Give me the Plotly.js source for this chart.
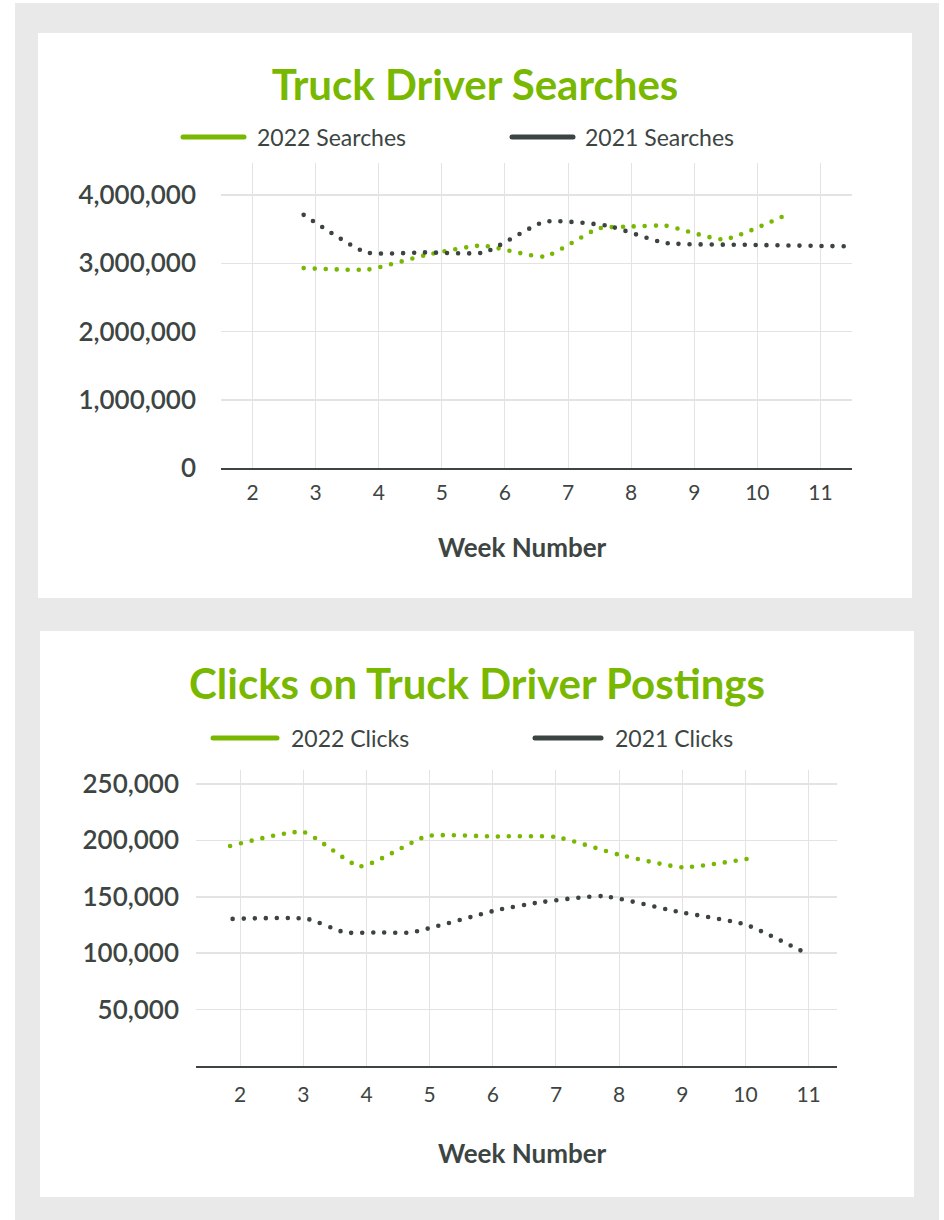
<!DOCTYPE html>
<html><head><meta charset="utf-8">
<script src="https://cdn.plot.ly/plotly-3.0.1.min.js"></script>
<style>
html,body{margin:0;padding:0;background:#fff;width:944px;height:1220px;overflow:hidden;}
#bg{position:absolute;left:15px;top:3px;width:924px;height:1217px;background:#e8e9e8;}
.card{position:absolute;width:874px;background:#fff;}
#c1{left:38px;top:33px;height:565px;}
#c2{left:40px;top:631px;height:566px;}
.js-line{stroke-linecap:round;}
.shapelayer path{stroke-linecap:round;}
</style></head><body>
<div id="bg"></div>
<div id="c1" class="card"></div>
<div id="c2" class="card"></div>
<script>
// ---------- DATA ----------
const weekTicks = [2, 3, 4, 5, 6, 7, 8, 9, 10, 11];
const weekTickLabels = ['2', '3', '4', '5', '6', '7', '8', '9', '10', '11'];

const searches2022Week = [2.81, 3.84, 4.74, 5.63, 6.63, 7.48, 8.02, 8.55, 9.47, 10.48];
const searches2022 = [2930000, 2910000, 3120000, 3260000, 3100000, 3510000, 3540000, 3550000, 3350000, 3720000];
const searches2021Week = [2.81, 3.80, 4.73, 5.67, 6.63, 7.63, 8.53, 9.9, 11.37];
const searches2021 = [3710000, 3160000, 3160000, 3160000, 3610000, 3550000, 3300000, 3270000, 3250000];
const searchTicks = [0, 1000000, 2000000, 3000000, 4000000];

const clicks2022Week = [1.84, 3.0, 3.90, 4.96, 6.0, 7.0, 8.0, 9.0, 10.04];
const clicks2022 = [195000, 207400, 177000, 203800, 203500, 203000, 187300, 176200, 183700];
const clicks2021Week = [1.88, 3.06, 3.66, 4.18, 4.70, 6.05, 6.71, 7.74, 8.90, 10.01, 10.96];
const clicks2021 = [130400, 130400, 118400, 118400, 118400, 138000, 144800, 150600, 137100, 125200, 100000];
const clickTicks = [50000, 100000, 150000, 200000, 250000];

// ---------- STYLE ----------
const GREEN = '#78b800';
const DARK = '#3b4442';
const TEXT = '#3d4543';
const FONT = 'Lato, "Noto Sans", sans-serif';

function buildChart(divId, cfg) {
  const W = 874, H = cfg.H;
  const m = cfg.margin;
  const pw = W - m.l - m.r, ph = H - m.t - m.b;
  const xp = px => (px - m.l) / pw;
  const yp = py => (H - m.b - py) / ph;

  const traces = cfg.series.map(s => ({
    type: 'scatter', mode: 'lines', x: s.x, y: s.y, name: s.name,
    line: {color: s.color, width: 4.6, shape: 'spline', smoothing: 0.5, dash: '0px,11px'},
    hoverinfo: 'skip', showlegend: false
  }));

  const shapes = [], annotations = [];
  cfg.legend.forEach(l => {
    shapes.push({type: 'line', xref: 'paper', yref: 'paper',
      x0: xp(l.x0), x1: xp(l.x1), y0: yp(l.y), y1: yp(l.y),
      line: {color: l.color, width: 5}});
    annotations.push({xref: 'paper', yref: 'paper', x: xp(l.tx), y: yp(l.y),
      xanchor: 'left', yanchor: 'middle', showarrow: false, text: l.text,
      font: {family: FONT, size: 23, color: TEXT}});
  });
  annotations.push({xref: 'paper', yref: 'paper', x: xp(cfg.xTitle.x), y: yp(cfg.xTitle.y),
    xanchor: 'center', yanchor: 'middle', showarrow: false, text: 'Week Number',
    font: {family: FONT, size: 26, color: TEXT, weight: 700}});

  const layout = {
    width: W, height: H,
    margin: m,
    paper_bgcolor: '#ffffff', plot_bgcolor: '#ffffff',
    font: {family: FONT, color: TEXT},
    title: {text: cfg.title, x: 0.5, xanchor: 'center', xref: 'container',
      y: 1 - cfg.titleY / H, yanchor: 'middle', yref: 'container',
      font: {family: FONT, size: 42, color: GREEN, weight: 700}},
    xaxis: {range: cfg.xrange, tickvals: weekTicks, ticktext: weekTickLabels,
      showgrid: true, gridcolor: '#e3e3e3', gridwidth: 1, zeroline: false,
      showline: true, linecolor: '#3d4543', linewidth: 2,
      ticks: '', ticklabelstandoff: cfg.xStandoff,
      tickfont: {family: FONT, size: 21, color: TEXT},
      fixedrange: true},
    yaxis: {range: cfg.yrange, tickvals: cfg.yticks, tickformat: ',d',
      showgrid: true, gridcolor: '#e3e3e3', gridwidth: 1.5, zeroline: false,
      showline: false, ticks: '', ticklabelstandoff: cfg.yStandoff,
      tickfont: {family: FONT, size: 26, color: TEXT, weight: 600},
      fixedrange: true},
    shapes: shapes, annotations: annotations,
    showlegend: false
  };
  Plotly.newPlot(divId, traces, layout, {staticPlot: true, displayModeBar: false});
}

buildChart('c1', {
  H: 565, margin: {l: 183, r: 60, t: 130, b: 130},
  title: 'Truck Driver Searches', titleY: 52,
  xrange: [1.5, 11.5], yrange: [0, 4470000], yticks: searchTicks,
  xStandoff: 5, yStandoff: 24,
  xTitle: {x: 484, y: 514},
  series: [
    {x: searches2022Week, y: searches2022, name: '2022 Searches', color: GREEN},
    {x: searches2021Week, y: searches2021, name: '2021 Searches', color: DARK}
  ],
  legend: [
    {x0: 145, x1: 206, y: 104, tx: 217, text: '2022 Searches', color: GREEN},
    {x0: 474, x1: 535, y: 104, tx: 545, text: '2021 Searches', color: DARK}
  ]
});

buildChart('c2', {
  H: 566, margin: {l: 156, r: 77, t: 139, b: 131},
  title: 'Clicks on Truck Driver Postings', titleY: 53,
  xrange: [1.3, 11.45], yrange: [0, 262400], yticks: clickTicks,
  xStandoff: 9, yStandoff: 16,
  xTitle: {x: 482, y: 522},
  series: [
    {x: clicks2022Week, y: clicks2022, name: '2022 Clicks', color: GREEN},
    {x: clicks2021Week, y: clicks2021, name: '2021 Clicks', color: DARK}
  ],
  legend: [
    {x0: 173, x1: 237, y: 107, tx: 249, text: '2022 Clicks', color: GREEN},
    {x0: 495, x1: 561, y: 107, tx: 573, text: '2021 Clicks', color: DARK}
  ]
});
</script>
</body></html>
